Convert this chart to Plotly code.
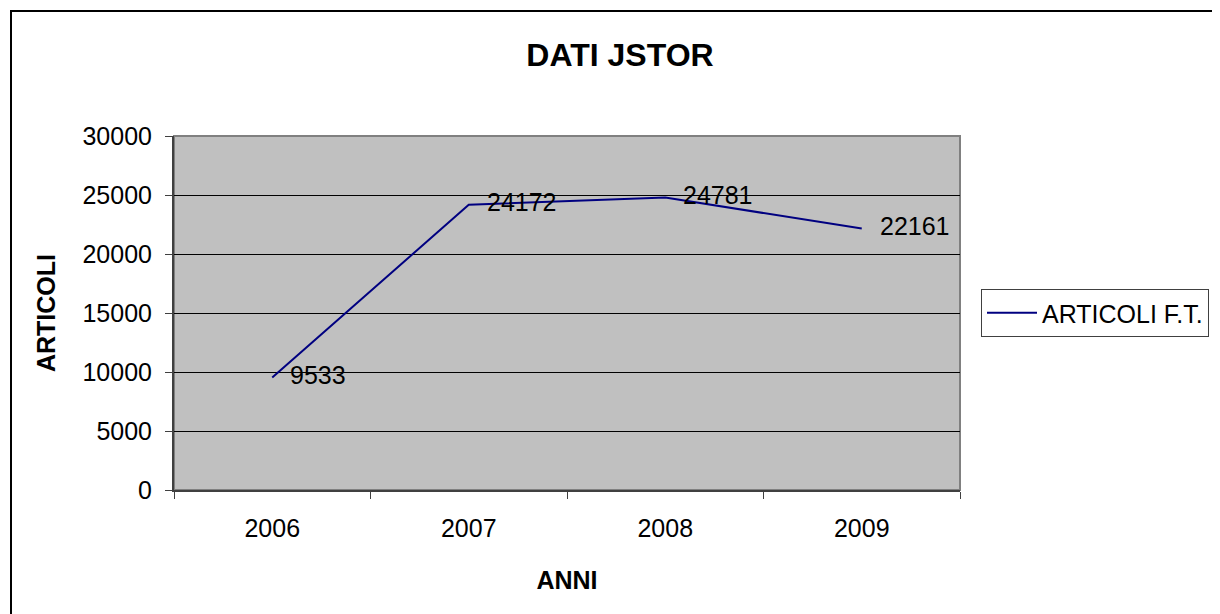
import plotly.graph_objects as go

# data
anni = ["2006", "2007", "2008", "2009"]
articoli = [9533, 24172, 24781, 22161]
serie = "ARTICOLI F.T."
y_ticks = [0, 5000, 10000, 15000, 20000, 25000, 30000]

W, H = 1220, 614
OFF = 8  # page body margin shifts the figure by 8px
L, T = 174 - OFF, 136 - OFF
pw, ph = 786, 354
R, B = W - L - pw, H - T - ph

FONT = "Liberation Sans, Arial, sans-serif"
FS = 25


def px_x(x):
    return (x - OFF - L) / pw


def px_y(y):
    return (T + ph - (y - OFF)) / ph


fig = go.Figure()
fig.add_trace(go.Scatter(
    x=anni, y=articoli, mode="lines", name=serie,
    line=dict(color="#000080", width=2),
))

# value labels to the right of each point
for i, v in enumerate(articoli):
    fig.add_annotation(
        x=i, y=v, xref="x", yref="y", text=str(v), showarrow=False,
        xanchor="left", yanchor="middle", xshift=16, yshift=3,
        font=dict(size=FS, color="black", family=FONT),
    )

# outer chart border (right/bottom fall outside the window)
fig.add_shape(
    type="rect", xref="paper", yref="paper",
    x0=px_x(11), x1=px_x(1250), y0=px_y(640), y1=px_y(11),
    line=dict(color="black", width=2), layer="below",
)

# gray plot-area border
fig.add_shape(
    type="rect", xref="paper", yref="paper", x0=0, x1=1, y0=0, y1=1,
    line=dict(color="#808080", width=2), layer="below",
)

fig.update_layout(
    width=W, height=H,
    margin=dict(l=L, r=R, t=T, b=B),
    paper_bgcolor="white",
    plot_bgcolor="#C0C0C0",
    font=dict(family=FONT, size=FS, color="black"),
    title=dict(
        text="<b>DATI JSTOR</b>", x=(620 - OFF) / W, xanchor="center",
        y=1 - (55 - OFF) / H, yanchor="middle", font=dict(size=32),
    ),
    showlegend=True,
    legend=dict(
        x=px_x(981), y=px_y(289), xanchor="left", yanchor="top",
        bordercolor="#404040", borderwidth=1, bgcolor="white",
        font=dict(size=FS), itemwidth=50,
    ),
    xaxis=dict(
        type="category", tickson="boundaries",
        ticks="outside", ticklen=7, tickcolor="#404040",
        showline=True, linecolor="#404040", linewidth=2,
        showgrid=False, range=[-0.5, 3.5],
        ticklabelstandoff=15,
        title=dict(text="<b>ANNI</b>", standoff=30, font=dict(size=FS)),
        tickfont=dict(size=FS),
    ),
    yaxis=dict(
        range=[0, 30000], tickvals=y_ticks, tickformat="d",
        ticks="outside", ticklen=7, tickcolor="#404040",
        showline=True, linecolor="#404040", linewidth=2,
        showgrid=True, gridcolor="black", gridwidth=1,
        zeroline=False, ticklabelstandoff=8,
        title=dict(text="<b>ARTICOLI</b>", standoff=20, font=dict(size=FS)),
        tickfont=dict(size=FS),
    ),
)

fig.write_html("out.html")
